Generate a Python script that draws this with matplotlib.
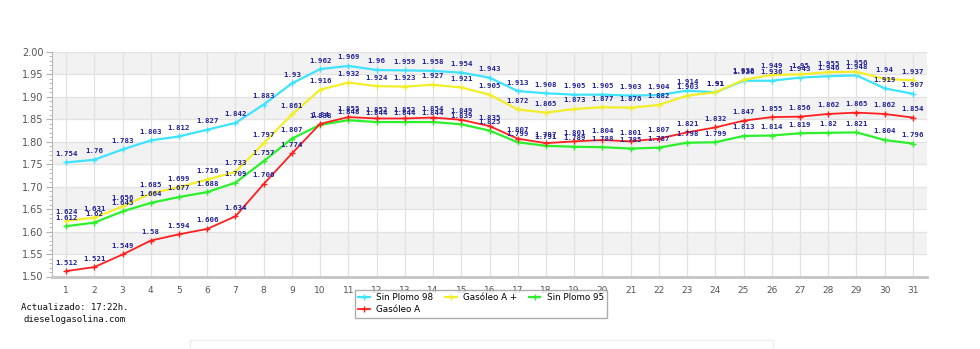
import matplotlib
matplotlib.use("Agg")
import matplotlib.pyplot as plt
from matplotlib.patches import Rectangle
from matplotlib.ticker import MultipleLocator

days = list(range(1, 32))
sin_plomo_98 = [1.754, 1.76, 1.783, 1.803, 1.812, 1.827, 1.842, 1.883, 1.93, 1.962,
                1.969, 1.96, 1.959, 1.958, 1.954, 1.943, 1.913, 1.908, 1.905, 1.905,
                1.903, 1.904, 1.914, 1.910, 1.936, 1.936, 1.943, 1.946, 1.948, 1.919, 1.907]
gasoleo_a_plus = [1.624, 1.631, 1.656, 1.685, 1.699, 1.716, 1.733, 1.797, 1.861, 1.916,
                  1.932, 1.924, 1.923, 1.927, 1.921, 1.905, 1.872, 1.865, 1.873, 1.877,
                  1.876, 1.882, 1.903, 1.910, 1.938, 1.949, 1.95, 1.955, 1.956, 1.940, 1.937]
sin_plomo_95 = [1.612, 1.62, 1.645, 1.664, 1.677, 1.688, 1.709, 1.757, 1.807, 1.838,
                1.848, 1.844, 1.844, 1.844, 1.839, 1.825, 1.799, 1.791, 1.789, 1.788,
                1.785, 1.787, 1.798, 1.799, 1.813, 1.814, 1.819, 1.82, 1.821, 1.804, 1.796]
gasoleo_a = [1.512, 1.521, 1.549, 1.58, 1.594, 1.606, 1.634, 1.706, 1.774, 1.840,
             1.855, 1.852, 1.852, 1.854, 1.849, 1.835, 1.807, 1.797, 1.801, 1.804,
             1.801, 1.807, 1.821, 1.832, 1.847, 1.855, 1.856, 1.862, 1.865, 1.862, 1.854]

series = [
    ("Sin Plomo 98", sin_plomo_98, "#3de3ff", 1.6),
    ("Gasóleo A +", gasoleo_a_plus, "#f2ee2a", 1.6),
    ("Sin Plomo 95", sin_plomo_95, "#2cf02c", 1.6),
    ("Gasóleo A", gasoleo_a, "#ff2020", 1.3),
]

fig = plt.figure(figsize=(9.8, 3.49), dpi=100)
ax = fig.add_axes([52/980, 1-276.5/349, (927-52)/980, (276.5-52)/349])

ymin, ymax = 1.50, 2.00
ax.set_xlim(0.5, 31.5)
ax.set_ylim(ymin, ymax)

# alternating bands
y = 1.55
while y < ymax - 1e-9:
    ax.axhspan(y, y + 0.05, color="#f2f2f2", zorder=0, lw=0)
    y += 0.10

ax.set_xticks(days)
ax.set_yticks([1.50 + 0.05*i for i in range(11)])
ax.yaxis.set_minor_locator(MultipleLocator(0.01))
ax.grid(True, which="major", color="#e2e2e2", lw=0.9, zorder=0.5)
ax.set_axisbelow(True)

handles = {}
for name, vals, col, lw in series:
    h, = ax.plot(days, vals, color=col, lw=lw, marker="+", ms=4, mew=1.0, zorder=3, label=name)
    handles[name] = h
    for d, v in zip(days, vals):
        ax.annotate(f"{v:g}", (d, v), xytext=(0, 4), textcoords="offset points",
                    ha="center", va="bottom", fontsize=5.3, color="#22229a",
                    family="DejaVu Sans Mono", fontweight="bold", zorder=4)

for s in ["top", "right"]:
    ax.spines[s].set_visible(False)
ax.spines["left"].set_color("#b8b8b8")
ax.spines["bottom"].set_color("#c4c4c4")
ax.spines["bottom"].set_linewidth(2)
ax.tick_params(axis="y", which="major", length=4, color="#b0b0b0", labelsize=7, labelcolor="#555555", pad=2)
ax.tick_params(axis="y", which="minor", length=2, color="#b0b0b0")
ax.tick_params(axis="x", length=0, labelsize=6.5, labelcolor="#555555", pad=7)
ax.yaxis.set_major_formatter(matplotlib.ticker.FormatStrFormatter("%.2f"))

order = ["Sin Plomo 98", "Gasóleo A", "Gasóleo A +", "Sin Plomo 95"]
leg = fig.legend([handles[n] for n in order], order, ncol=3, loc="upper center",
                 bbox_to_anchor=(481/980, 1-290/349), fontsize=6.3, frameon=True,
                 fancybox=False, edgecolor="#999999", borderpad=0.4, handlelength=1.3,
                 columnspacing=1.4, handletextpad=0.7, labelspacing=0.3, borderaxespad=0)
leg.get_frame().set_linewidth(1.0)

fig.text(75/980, 1-307/349, "Actualizado: 17:22h.", ha="center", va="center",
         fontsize=6.5, family="DejaVu Sans Mono", color="#111111")
fig.text(75/980, 1-319/349, "dieselogasolina.com", ha="center", va="center",
         fontsize=6.5, family="DejaVu Sans Mono", color="#111111")

fig.patches.append(Rectangle((190/980, 0), (773-190)/980, (349-340)/349,
                             transform=fig.transFigure, fill=False,
                             edgecolor="#eeeeee", lw=1.0))

fig.savefig("out.png", dpi=100)
